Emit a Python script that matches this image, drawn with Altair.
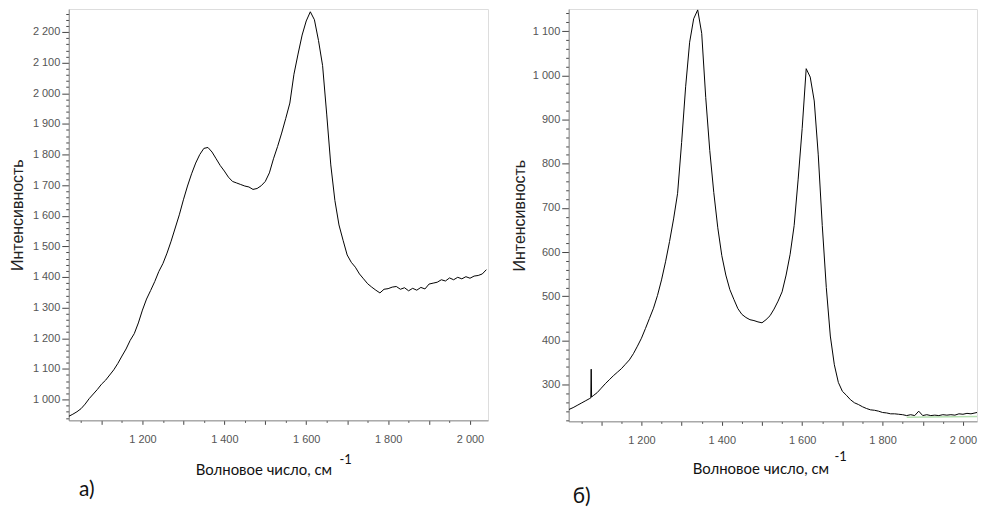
import altair as alt
import pandas as pd

# ---------- data ----------
wn_a = list(range(1020, 2041, 10))
int_a = [945, 952, 960, 970, 985, 1003, 1018, 1033, 1050, 1063,
         1080, 1097, 1118, 1142, 1165, 1193, 1215, 1250, 1292, 1328,
         1356, 1385, 1418, 1444, 1478, 1517, 1560, 1603, 1652, 1697,
         1737, 1772, 1800, 1820, 1823, 1808, 1786, 1764, 1746, 1726,
         1712, 1707, 1702, 1697, 1694, 1686, 1689, 1698, 1712, 1740,
         1786, 1826, 1870, 1918, 1968, 2062, 2128, 2190, 2236, 2266,
         2240, 2172, 2090, 1932, 1766, 1650, 1570, 1520, 1472, 1448,
         1432, 1410, 1394, 1378, 1367, 1357, 1348, 1360, 1362, 1367,
         1369, 1360, 1365, 1355, 1363, 1357, 1366, 1361, 1377, 1380,
         1383, 1391, 1387, 1397, 1391, 1399, 1394, 1401, 1396, 1403,
         1405, 1410, 1424]

wn_b = list(range(1020, 2041, 10))
int_b = [244, 248, 253, 258, 263, 268, 275, 282, 292, 302,
         311, 320, 328, 336, 346, 356, 370, 387, 405, 427,
         450, 473, 502, 537, 578, 624, 675, 733, 848, 974,
         1075, 1128, 1148, 1095, 950, 830, 735, 655, 592, 548,
         515, 493, 472, 459, 452, 447, 445, 442, 440, 447,
         456, 471, 489, 510, 548, 595, 660, 765, 880, 1015,
         996, 942, 820, 660, 520, 410, 345, 305, 285, 276,
         266, 259, 255, 250, 246, 243, 242, 240, 237, 236,
         234, 234, 233, 232, 230, 232, 230, 240, 230, 232,
         230, 231, 230, 232, 231, 232, 231, 234, 233, 235,
         234, 236, 238]
spike_wn = [1074, 1075, 1076]
spike_int = [270, 335, 272]

green_wn = [1860, 2040]
green_int = [226, 228]

x_title = "Волновое число, см"
x_sup = "-1"
y_title = "Интенсивность"

df_a = pd.DataFrame({"wn": wn_a, "I": int_a})
df_b = pd.DataFrame({"wn": wn_b + spike_wn, "I": int_b + spike_int}).sort_values("wn")
df_g = pd.DataFrame({"wn": green_wn, "I": green_int})

LBL = "replace(format(datum.value, ','), ',', ' ')"


def panel(df, xdom, ydom, yvals, w, h, letter, lpos, tpos, spos, title_pad, extra=None):
    xax = alt.Axis(values=list(range(1050, 2041, 50)), title=None,
                   labelExpr=f"datum.value % 200 === 0 ? {LBL} : ''",
                   tickSize={"condition": {"test": "datum.value % 100 === 0", "value": 4}, "value": 2},
                   labelPadding=9, labelFont="Liberation Sans", labelFontSize=11, labelColor="#555",
                   labelOverlap=False, labelFlush=False, domainColor="#8a8a8a", tickColor="#444",
                   grid=False)
    yax = alt.Axis(values=yvals, title=y_title,
                   labelExpr=f"datum.value % 100 === 0 ? {LBL} : ''",
                   tickSize={"condition": {"test": "datum.value % 100 === 0", "value": 7}, "value": 3},
                   labelPadding=2, labelFont="Liberation Sans", labelFontSize=11, labelColor="#555",
                   labelOverlap=False, labelFlush=False, domainColor="#8a8a8a", tickColor="#444",
                   titleFont="Liberation Sans", titleFontSize=16, titleFontWeight="normal",
                   titleColor="#222", titlePadding=title_pad, grid=False)
    xs = alt.Scale(domain=xdom, nice=False, zero=False)
    ys = alt.Scale(domain=ydom, nice=False, zero=False)
    layers = []
    if extra is not None:
        layers.append(alt.Chart(extra).mark_line(color="#b5dfb0", strokeWidth=1.5, clip=True).encode(
            x=alt.X("wn:Q", scale=xs, axis=xax), y=alt.Y("I:Q", scale=ys, axis=yax)))
    layers.append(alt.Chart(df).mark_line(color="black", strokeWidth=1, clip=True).encode(
        x=alt.X("wn:Q", scale=xs, axis=xax),
        y=alt.Y("I:Q", scale=ys, axis=yax),
    ))
    one = pd.DataFrame({"t": [x_title]})
    layers.append(alt.Chart(one).mark_text(font="Lato", fontSize=15, color="#111", align="center",
                                           baseline="middle").encode(
        x=alt.value(tpos[0]), y=alt.value(tpos[1]), text=alt.value(x_title)))
    layers.append(alt.Chart(one).mark_text(font="Lato", fontSize=13, color="#111", align="center",
                                           baseline="middle").encode(
        x=alt.value(spos[0]), y=alt.value(spos[1]), text=alt.value(x_sup)))
    layers.append(alt.Chart(one).mark_text(font="Lato", fontSize=21, color="#111", align="center",
                                           baseline="middle").encode(
        x=alt.value(lpos[0]), y=alt.value(lpos[1]), text=alt.value(letter)))
    return alt.layer(*layers).properties(width=w, height=h)


left = panel(df_a, [1020, 2044], [932, 2275], list(range(940, 2275, 20)), 421, 413,
             "а)", (18, 483), (196, 463), (278, 453), 7)
right = panel(df_b, [1019, 2035], [217, 1150], list(range(220, 1150, 20)), 410, 414,
              "б)", (13, 490), (193, 462), (273, 450), 5, extra=df_g)

chart = alt.hconcat(left, right, spacing=21).properties(
    padding={"left": 0, "top": -3, "right": 0, "bottom": 0}).configure_view(
    stroke="#b8b8b8", strokeWidth=1).configure(background="white")

chart.save("out.html", embed_options={"renderer": "svg", "actions": False})
